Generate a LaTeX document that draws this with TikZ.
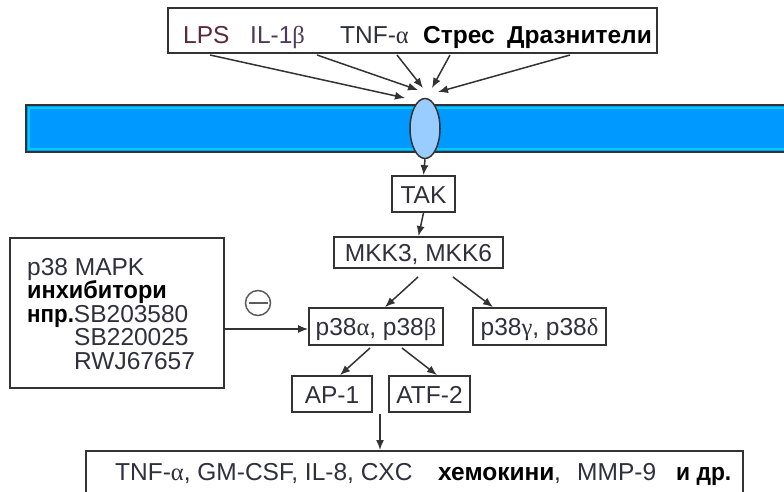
\documentclass[tikz,border=0pt]{standalone}
\usepackage{fontspec}
\setmainfont{Liberation Sans}
\newfontfamily\grk{Liberation Serif}
\usetikzlibrary{shapes.geometric,arrows.meta,calc}
\definecolor{memblue}{HTML}{0099FF}
\definecolor{memedge}{HTML}{00CCFF}
\definecolor{chanfill}{HTML}{99CCFF}
\definecolor{linegray}{HTML}{333333}
\definecolor{txtgray}{HTML}{30303C}
\definecolor{lpscol}{HTML}{5A2A3C}
\definecolor{ilcol}{HTML}{4C3A5E}
\tikzset{
  box/.style={draw=linegray, line width=1.8pt, fill=white, inner sep=0pt},
  lbl/.style={inner sep=0pt, anchor=base west, font=\fontsize{24.5}{28}\selectfont, text=txtgray},
  blbl/.style={lbl, font=\fontsize{24.5}{28}\selectfont\bfseries, text=black},
  arr/.style={draw=linegray, line width=1.5pt, -{Latex[length=10pt,width=8pt]}},
}
\begin{document}
\begin{tikzpicture}[x=1pt,y=-1pt]
\useasboundingbox (0,0) rectangle (784,491);
% membrane
\path[fill=memblue, draw=linegray, line width=2.2pt] (26,105) rectangle (800,152);
\path[draw=memedge, line width=1.8pt] (28.9,107.9) rectangle (800,149.1);
% top box
\node[box, minimum width=489pt, minimum height=45pt] (top) at (412.5,30.5) {};
\node[lbl, text=lpscol] (lps) at (183,43) {LPS};
\node[lbl, text=ilcol] (il) at (250,43) {IL-1{\grk β}};
\node[lbl] (tnf) at (340,43) {TNF-{\grk α}};
\node[blbl] (stres) at (423,43) {Стрес};
\node[blbl] (draz) at (507,43) {Дразнители};
% channel
\node[ellipse, draw=linegray, line width=1.5pt, fill=chanfill, minimum width=30pt, minimum height=60pt, inner sep=0pt] (chan) at (425,128.5) {};
% arrows into channel
\coordinate (s1) at (210,55); \coordinate (e1) at (405,98);
\coordinate (s2) at (317,55); \coordinate (e2) at (418,90);
\coordinate (s3) at (397,55); \coordinate (e3) at (423,88);
\coordinate (s4) at (450,55); \coordinate (e4) at (432,88);
\coordinate (s5) at (570,55); \coordinate (e5) at (438,92);
\foreach \i in {1,...,5} {\draw[arr] (s\i) -- (e\i);}
% cascade
\node[box, minimum width=63pt, minimum height=36pt] (tak) at (423.5,194) {};
\node[lbl, anchor=base] (taktxt) at (423.5,203) {TAK};
\node[box, minimum width=169pt, minimum height=31pt] (mkk) at (418.5,252.5) {};
\node[lbl, anchor=base] (mkktxt) at (418.5,261) {MKK3, MKK6};
\node[box, minimum width=134pt, minimum height=37pt] (pab) at (376,326.5) {};
\node[lbl, anchor=base] (pabtxt) at (376,335) {p38{\grk α}, p38{\grk β}};
\node[box, minimum width=133pt, minimum height=37pt] (pgd) at (539.5,326.5) {};
\node[lbl, anchor=base] (pgdtxt) at (539.5,335) {p38{\grk γ}, p38{\grk δ}};
\node[box, minimum width=80pt, minimum height=36pt] (ap) at (332,394) {};
\node[lbl, anchor=base] (aptxt) at (332,403) {AP-1};
\node[box, minimum width=81pt, minimum height=36pt] (atf) at (429.5,394) {};
\node[lbl, anchor=base] (atftxt) at (429.5,403) {ATF-2};
% inhibitors
\node[box, minimum width=214pt, minimum height=150pt] (inh) at (117,313) {};
\node[lbl, align=left, font=\fontsize{24.5}{23.5}\selectfont] (itxt) at (27,369) {%
p38 MAPK\\
{\bfseries\color{black}\scalebox{0.96}[1]{инхибитори}}\\
{\bfseries\color{black}\scalebox{0.91}[1]{нпр.}}SB203580\\
\hspace*{47pt}SB220025\\
\hspace*{47pt}RWJ67657};
\node[circle, draw=linegray!80, line width=1.5pt, minimum size=25pt, inner sep=0pt] (minus) at (258,303) {};
\draw[linegray!80, line width=2.5pt] ([xshift=-9.5pt]minus.center) -- ([xshift=9.5pt]minus.center);
% bottom box
\node[box, minimum width=657pt, minimum height=80pt, anchor=north] (bot) at (414.5,450) {};
\node[lbl] (b1) at (115,480) {TNF-{\grk α}, GM-CSF, IL-8, CXC};
\node[blbl] (b2) at (438,480) {хемокини};
\node[lbl] (b3) at (554,480) {,};
\node[lbl] (b4) at (577,480) {MMP-9};
\node[blbl] (b5) at (676,480) {\scalebox{0.93}[1]{и др.}};
% connectors
\draw[arr] (chan.south) -- (tak.north);
\draw[arr] (tak.south) -- (mkk.north);
\coordinate (m1) at (418,277); \coordinate (m2) at (453,277);
\draw[arr] (m1) -- ([xshift=9pt]pab.north);
\draw[arr] (m2) -- ([xshift=-46.5pt]pgd.north);
\coordinate (p1) at (370,348); \coordinate (p2) at (402,348);
\draw[arr] (p1) -- ([xshift=8pt]ap.north);
\draw[arr] (p2) -- ([xshift=7.5pt]atf.north);
\coordinate (c1) at (380,414);
\draw[arr] (c1) -- (bot.north -| c1);
\draw[arr] ([yshift=-16pt]inh.east) -- ([yshift=-2.5pt]pab.west);
\end{tikzpicture}
\end{document}
